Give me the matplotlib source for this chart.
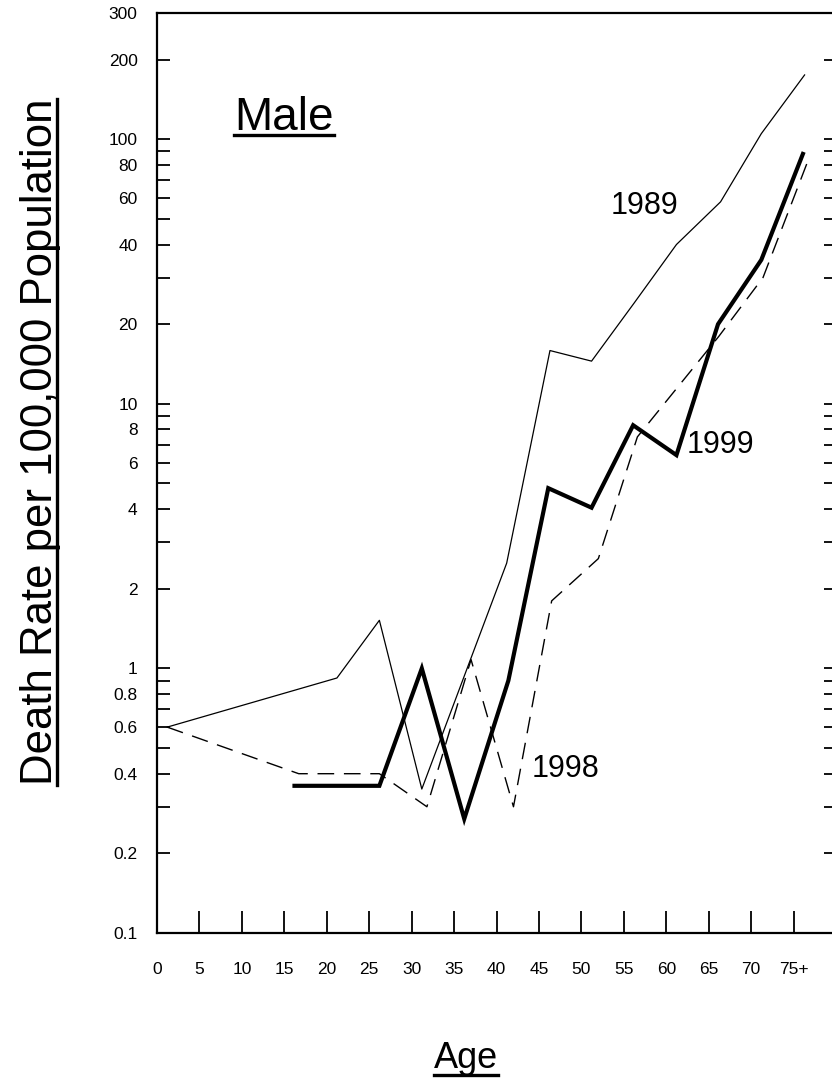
import matplotlib
matplotlib.use("Agg")
import matplotlib.pyplot as plt
from matplotlib.lines import Line2D
from matplotlib.ticker import FixedLocator, NullFormatter

plt.rcParams['font.family'] = ['Liberation Sans', 'DejaVu Sans']

# data (ages are where the vertices sit on the age axis)
ages_1989 = [1.2, 21.2, 26.2, 31.2, 41.2, 46.3, 51.2, 56.2, 61.2, 66.4, 71.2, 76.3]
rate_1989 = [0.6, 0.92, 1.52, 0.35, 2.5, 15.9, 14.5, 24, 40, 58, 105, 175]

ages_1998 = [1.2, 16.7, 21.2, 26.2, 31.8, 37.0, 42.0, 46.5, 52.0, 56.6, 66.2, 71.4, 76.7]
rate_1998 = [0.6, 0.4, 0.4, 0.4, 0.3, 1.08, 0.3, 1.8, 2.6, 7.5, 18, 30, 83]

ages_1999 = [16.2, 21.2, 26.2, 31.2, 36.2, 41.4, 46.1, 51.2, 56.1, 61.2, 66.1, 71.2, 76.1]
rate_1999 = [0.36, 0.36, 0.36, 1.0, 0.27, 0.9, 4.8, 4.05, 8.3, 6.4, 20, 35, 88]

xtick_pos = [0, 5, 10, 15, 20, 25, 30, 35, 40, 45, 50, 55, 60, 65, 70, 75]
xtick_lab = ['0', '5', '10', '15', '20', '25', '30', '35', '40', '45', '50', '55', '60', '65', '70', '75+']
ytick_pos = [0.1, 0.2, 0.4, 0.6, 0.8, 1, 2, 4, 6, 8, 10, 20, 40, 60, 80, 100, 200, 300]
ytick_lab = ['0.1', '0.2', '0.4', '0.6', '0.8', '1', '2', '4', '6', '8', '10', '20', '40', '60', '80', '100', '200', '300']
yminor = [0.3, 0.5, 0.7, 0.9, 3, 5, 7, 9, 30, 50, 70, 90]

W, H = 832, 1080
fig = plt.figure(figsize=(W / 100, H / 100), dpi=100)
ax = fig.add_axes([157 / W, 1 - 933 / H, (836 - 157) / W, (933 - 13) / H])

ax.plot(ages_1989, rate_1989, color='black', lw=0.9)
ax.plot(ages_1998, rate_1998, color='black', lw=1.0, dashes=(12, 7))
ax.plot(ages_1999, rate_1999, color='black', lw=3.0, solid_joinstyle='miter')

ax.set_yscale('log')
ax.set_ylim(0.1, 300)
ax.set_xlim(0.2, 80)

ax.yaxis.set_major_locator(FixedLocator(ytick_pos))
ax.set_yticklabels(ytick_lab)
ax.yaxis.set_minor_locator(FixedLocator(yminor))
ax.yaxis.set_minor_formatter(NullFormatter())
ax.tick_params(axis='y', which='both', direction='in', length=9, width=1.3,
               right=True, labelsize=12.5, pad=14)

ax.set_xticks(xtick_pos)
ax.set_xticklabels(xtick_lab)
ax.tick_params(axis='x', direction='in', length=16, width=1.3, labelsize=12.5, pad=21)
ax.xaxis.get_major_ticks()[0].tick1line.set_visible(False)

for s in ax.spines.values():
    s.set_linewidth(1.6)

# year labels
ax.text(53.5, 56, '1989', fontsize=22, va='center', ha='left')
ax.text(62.4, 7.0, '1999', fontsize=22, va='center', ha='left')
ax.text(44.1, 0.415, '1998', fontsize=22, va='center', ha='left')

# titles, underlined by hand
t_male = fig.text(234 / W, 1 - 130 / H, 'Male', fontsize=33, ha='left', va='baseline')
t_age = fig.text(466 / W, 1 - 1068 / H, 'Age', fontsize=26, ha='center', va='baseline')
t_y = fig.text(52 / W, 1 - 442 / H, 'Death Rate per 100,000 Population', fontsize=31.5,
               rotation=90, rotation_mode='anchor', ha='center', va='baseline')

fig.canvas.draw()
r = fig.canvas.get_renderer()
b = t_male.get_window_extent(r)
fig.add_artist(Line2D([b.x0 / W, b.x1 / W], [(H - 135) / H] * 2, color='black', lw=2.4))
b = t_age.get_window_extent(r)
fig.add_artist(Line2D([b.x0 / W, b.x1 / W], [(H - 1075) / H] * 2, color='black', lw=2.4))
b = t_y.get_window_extent(r)
fig.add_artist(Line2D([57 / W] * 2, [b.y0 / H, b.y1 / H], color='black', lw=2.4))

fig.savefig('out.png', dpi=100)
